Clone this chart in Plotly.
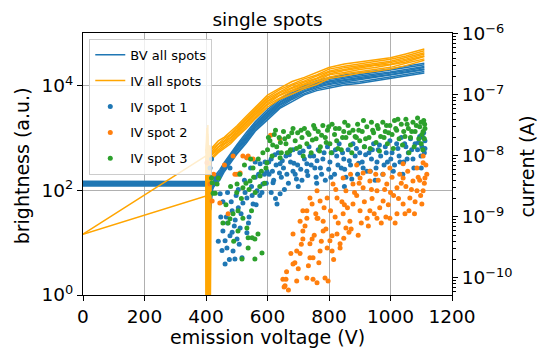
import plotly.graph_objects as go

# ---------------- data ----------------
# BV sweeps: brightness (a.u.) vs emission voltage (V)
bv_voltage = [0, 400, 405, 410, 415, 420, 430, 445, 460, 480, 500, 530, 560, 600, 640, 680, 720, 760, 800, 850, 900, 950, 1000, 1050, 1110]
bv_sweep_1 = [122, 121, 100, 135, 60, 105, 128, 158, 230, 330, 490, 790, 1350, 2230, 3700, 5000, 6700, 8100, 9100, 10400, 11200, 12500, 13500, 15400, 17600]
bv_sweep_2 = [128, 129, 118, 140, 45, 120, 134, 175, 240, 362, 515, 870, 1420, 2450, 3900, 5480, 7100, 8650, 9850, 11200, 12000, 13400, 14500, 16500, 18700]
bv_sweep_3 = [133, 134, 92, 148, 80, 110, 147, 182, 262, 380, 560, 910, 1540, 2570, 4230, 5780, 7700, 9150, 10650, 11800, 13100, 14200, 15700, 17500, 20300]
bv_sweep_4 = [140, 139, 125, 132, 55, 118, 151, 196, 270, 408, 580, 980, 1600, 2760, 4400, 6150, 8000, 9750, 11100, 12600, 13600, 15100, 16400, 18600, 21000]
bv_sweep_5 = [150, 148, 130, 160, 70, 135, 163, 202, 292, 420, 620, 1010, 1700, 2860, 4700, 6400, 8550, 10150, 11800, 13100, 14500, 15700, 17400, 19400, 22500]
bv_sweep_6 = [126, 125, 108, 120, 42, 96, 169, 219, 300, 455, 645, 1090, 1780, 3070, 4900, 6850, 8950, 10850, 12350, 14000, 15100, 16800, 18300, 20700, 23500]
bv_sweep_7 = [137, 136, 115, 150, 65, 125, 184, 228, 328, 475, 700, 1140, 1920, 3220, 5300, 7220, 9600, 11450, 13300, 14700, 16300, 17700, 19700, 21900, 25400]
bv_sweep_8 = [145, 144, 120, 128, 50, 100, 194, 250, 345, 520, 740, 1250, 2050, 3520, 5650, 7850, 10250, 12450, 14200, 16100, 17400, 19300, 21000, 23800, 27000]

# IV sweeps: total current (A) vs emission voltage (V)
iv_voltage_long = [0, 400, 403, 406, 409, 412, 416, 420, 440, 460, 480, 500, 530, 560, 600, 640, 680, 720, 760, 800, 850, 900, 950, 1000, 1050, 1110]
iv_voltage_short = [400, 403, 406, 409, 412, 416, 420, 440, 460, 480, 500, 530, 560, 600, 640, 680, 720, 760, 800, 850, 900, 950, 1000, 1050, 1110]
iv_sweep_1 = [5.2e-10, 1.0e-8, 1e-13, 2.1e-8, 1e-13, 8.5e-9, 1.15e-8, 9.0e-9, 1.13e-8, 1.35e-8, 1.58e-8, 2.03e-8, 2.8e-8, 4.05e-8, 6.3e-8, 8.5e-8, 1.05e-7, 1.27e-7, 1.48e-7, 1.85e-7, 2.04e-7, 2.28e-7, 2.45e-7, 2.67e-7, 3.02e-7, 3.7e-7]
iv_sweep_2 = [5.2e-10, 2.2e-9, 1e-13, 1.6e-8, 6.0e-9, 1e-13, 9.0e-9, 9.6e-9, 1.2e-8, 1.45e-8, 1.7e-8, 2.14e-8, 3.08e-8, 4.28e-8, 6.9e-8, 8.9e-8, 1.15e-7, 1.35e-7, 1.62e-7, 1.95e-7, 2.23e-7, 2.41e-7, 2.68e-7, 2.83e-7, 3.3e-7, 3.9e-7]
iv_sweep_3 = [1.2e-8, 2.9e-8, 1e-13, 1.0e-8, 1.3e-8, 1.4e-8, 1.05e-8, 1.29e-8, 1.55e-8, 1.82e-8, 2.33e-8, 3.24e-8, 4.65e-8, 7.2e-8, 9.8e-8, 1.2e-7, 1.47e-7, 1.69e-7, 2.13e-7, 2.34e-7, 2.62e-7, 2.81e-7, 3.08e-7, 3.47e-7, 4.25e-7]
iv_sweep_4 = [9.0e-9, 1e-13, 2.3e-8, 1e-13, 7.0e-9, 1.0e-8, 1.08e-8, 1.39e-8, 1.6e-8, 1.96e-8, 2.4e-8, 3.47e-8, 4.82e-8, 7.8e-8, 1.01e-7, 1.29e-7, 1.52e-7, 1.82e-7, 2.2e-7, 2.51e-7, 2.72e-7, 3.03e-7, 3.18e-7, 3.72e-7, 4.4e-7]
iv_sweep_5 = [1.1e-8, 1.9e-8, 1.3e-8, 1e-13, 1.2e-8, 1.25e-8, 1.15e-8, 1.42e-8, 1.71e-8, 2.02e-8, 2.58e-8, 3.58e-8, 5.15e-8, 8.0e-8, 1.08e-7, 1.34e-7, 1.63e-7, 1.88e-7, 2.36e-7, 2.6e-7, 2.9e-7, 3.12e-7, 3.4e-7, 3.86e-7, 4.7e-7]
iv_sweep_6 = [1e-13, 1.5e-8, 1e-13, 9.0e-9, 1.1e-8, 1.05e-8, 1.2e-8, 1.54e-8, 1.78e-8, 2.18e-8, 2.69e-8, 3.86e-8, 5.38e-8, 8.6e-8, 1.12e-7, 1.44e-7, 1.7e-7, 2.03e-7, 2.45e-7, 2.8e-7, 3.03e-7, 3.36e-7, 3.55e-7, 4.12e-7, 4.9e-7]
iv_sweep_7 = [1.3e-8, 1e-13, 3.2e-8, 1e-13, 1.5e-8, 1.2e-8, 1.3e-8, 1.6e-8, 1.93e-8, 2.28e-8, 2.9e-8, 4.05e-8, 5.8e-8, 9.1e-8, 1.22e-7, 1.5e-7, 1.83e-7, 2.12e-7, 2.65e-7, 2.94e-7, 3.26e-7, 3.52e-7, 3.83e-7, 4.34e-7, 5.3e-7]
iv_sweep_8 = [1e-13, 2.5e-8, 1e-13, 1.1e-8, 1e-13, 1.3e-8, 1.38e-8, 1.76e-8, 2.04e-8, 2.5e-8, 3.1e-8, 4.42e-8, 6.15e-8, 9.9e-8, 1.29e-7, 1.66e-7, 1.94e-7, 2.33e-7, 2.82e-7, 3.2e-7, 3.48e-7, 3.85e-7, 4.08e-7, 4.7e-7, 5.65e-7]

# single-spot IV data: voltage (V) and log10 of current (A)
spot1_voltage = [413, 418, 423, 430, 446, 455, 462, 468, 462, 478, 488, 494, 517, 501, 533, 511, 520, 533, 553, 566,
                 585, 631, 641, 618, 598, 576, 641, 683, 728, 533, 478, 448, 470, 485, 495, 505, 540, 548, 560, 575,
                 590, 505, 525, 545, 560, 592, 470, 455, 440, 485,
                 452, 466, 476, 482, 492, 498, 508, 514, 527, 538, 550, 563, 571, 582, 596, 612, 626, 655,
                 605, 612, 620, 628, 635, 645, 652, 660, 668, 675, 683, 690, 698, 705, 712, 720, 728, 735, 742, 750,
                 758, 765, 772, 780, 788, 795, 803, 810, 818, 825, 833, 840, 848, 855, 862, 870, 878, 885, 893, 900,
                 908, 915, 923, 930, 938, 945, 953, 960, 968, 975, 983, 990, 998, 1005, 1013, 1020, 1028, 1035, 1043, 1050,
                 1058, 1065, 1073, 1080, 1088, 1095, 1102, 1108, 1112, 1110, 700, 760, 850, 950, 1040, 1100,
                 604, 616, 624, 639, 648, 663, 671, 686, 694, 708, 716, 731, 739, 754, 761, 776, 784, 799, 806, 821,
                 829, 844, 851, 866, 874, 889, 896, 911, 919, 934, 941, 956, 964, 979, 986, 1001, 1009, 1024, 1031, 1046,
                 1054, 1069, 1076, 1091, 1099, 1106, 1112]
spot1_log_current = [-8.2, -8.05, -8.33, -8.44, -8.62, -9.23, -9.39, -9.51, -9.77, -9.31, -9.56, -9.69, -9.67, -9.36, -9.26, -9.18, -8.77, -8.69, -8.79, -8.57,
                     -8.46, -8.79, -8.62, -8.44, -8.25, -8.13, -8.13, -8.25, -8.13, -8.03, -8.2, -9.0, -9.1, -8.9, -9.05, -8.85, -9.0, -8.5, -8.35, -8.65,
                     -8.3, -8.55, -8.4, -8.2, -8.1, -8.1, -8.6, -8.75, -9.4, -9.25,
                     -9.55, -9.0, -9.7, -8.75, -9.15, -8.65, -9.45, -8.95, -8.6, -9.1, -8.65, -8.8, -8.3, -8.6, -8.45, -8.6, -8.7, -8.55,
                     -8.3, -8.05, -8.4, -8.15, -7.95, -8.35, -8.2, -8.0, -8.45, -8.1, -7.9, -8.3, -8.15, -7.95, -8.4, -8.05, -8.25, -7.85, -8.15, -8.0,
                     -8.35, -7.9, -8.2, -8.05, -8.4, -7.85, -8.1, -7.95, -8.3, -8.0, -7.8, -8.2, -8.05, -8.35, -7.9, -8.15, -7.8, -8.0, -8.3, -7.95,
                     -8.1, -7.85, -8.25, -7.95, -8.05, -7.8, -8.2, -7.9, -8.0, -8.3, -7.85, -8.1, -7.75, -7.95, -8.15, -7.8, -8.0, -7.7, -8.1, -7.85,
                     -7.95, -7.72, -8.05, -7.8, -7.9, -7.68, -7.85, -7.62, -7.75, -7.95, -8.5, -8.45, -8.5, -8.4, -8.3, -8.2,
                     -8.1, -8.25, -7.98, -8.28, -8.08, -8.3, -7.98, -8.12, -8.38, -8.22, -7.92, -8.32, -8.0, -8.2, -8.08, -8.3, -7.95, -8.22, -8.35, -7.9,
                     -8.15, -7.95, -8.22, -8.08, -8.38, -7.88, -8.12, -8.2, -7.98, -8.25, -7.9, -8.1, -7.82, -8.15, -7.95, -8.05, -8.25, -7.88, -8.1, -7.8,
                     -8.05, -7.9, -8.2, -7.78, -8.0, -7.7, -7.88]

spot2_voltage = [403, 413, 420, 445, 472, 488, 494, 501, 511, 520, 533, 537, 553, 610, 640, 425, 460,
                 650, 657, 654, 660, 683, 689, 695, 695, 683, 706, 706, 715, 715, 715, 728, 728, 728, 738, 738, 738,
                 745, 745, 748, 748, 761, 761, 761, 764, 771, 771, 781, 781, 787, 794, 794, 797, 803, 810, 810, 813,
                 826, 826, 836, 836, 846, 846, 855, 855, 868, 878, 878, 901, 901, 911, 911, 924, 933, 933, 933, 956,
                 956, 976, 976, 988, 998, 998, 1021, 1021, 1041, 1041, 1041, 1063, 1073, 1086, 1086, 1102, 1106, 1106, 1112, 1118,
                 1106, 820, 850, 865, 890, 905, 940, 965, 985, 1010, 1030, 1050, 1060, 1080, 1095, 1000, 960, 870, 890,
                 662, 668, 676, 700, 710, 722, 733, 752, 757, 767, 775, 784, 790, 805, 815, 822, 830, 842, 848, 860,
                 872, 883, 895, 898, 915, 928, 938, 947, 952, 970, 981, 993, 1005, 1015, 1026, 1035, 1047, 1056, 1068, 1078,
                 1090, 1098, 1110, 1115]
spot2_log_current = [-8.11, -8.46, -8.74, -8.77, -8.95, -8.0, -8.3, -8.3, -8.28, -8.0, -8.03, -8.0, -8.05, -7.66, -7.72, -8.3, -8.15,
                     -10.02, -10.13, -10.15, -10.02, -9.77, -9.75, -10.05, -9.56, -9.28, -9.6, -9.07, -9.36, -9.23, -8.9, -9.02, -8.9, -10.0, -9.44, -9.67, -8.69,
                     -8.79, -9.36, -9.67, -10.02, -9.02, -10.08, -8.57, -9.02, -9.56, -8.74, -9.23, -9.07, -10.0, -9.51, -8.69, -10.05, -9.39, -9.31, -9.56, -8.46,
                     -8.69, -9.28, -9.51, -9.44, -8.95, -8.36, -9.18, -8.57, -9.07, -8.79, -8.46, -8.9, -8.36, -8.52, -8.28, -9.02, -8.9, -8.41, -8.25, -9.02,
                     -8.57, -8.74, -8.3, -8.46, -9.02, -8.2, -8.95, -8.52, -8.79, -8.36, -8.13, -8.69, -8.41, -8.57, -8.2, -8.79, -8.57, -8.11, -8.36, -8.3,
                     -8.0, -9.0, -8.8, -9.25, -8.65, -9.1, -8.7, -8.85, -9.0, -8.65, -8.3, -8.5, -8.9, -8.75, -8.4, -8.6, -8.4, -8.3, -8.15,
                     -9.9, -10.2, -9.6, -9.85, -9.45, -9.15, -9.8, -9.3, -8.95, -9.75, -9.4, -8.85, -9.2, -8.9, -9.7, -8.55, -9.1, -8.75, -9.35, -8.85,
                     -9.2, -8.6, -9.3, -8.45, -8.75, -9.15, -8.55, -8.95, -8.3, -9.1, -8.55, -8.8, -8.35, -9.1, -8.7, -8.45, -8.95, -8.25, -8.55, -8.95,
                     -8.35, -8.65, -8.45, -8.15]

spot3_voltage = [420, 430, 418, 423, 436, 440, 455, 472, 478, 504, 520, 533, 537, 550, 559, 569, 582, 559, 517, 537,
                 504, 488, 501, 520, 543, 576, 598, 553, 585, 641, 673, 510, 525, 540, 555, 570, 580, 590, 560, 530,
                 500, 515, 545, 575, 595, 480, 465, 490, 548,
                 600, 608, 615, 622, 630, 638, 645, 652, 660, 668, 675, 683, 690, 698, 705, 712, 720, 728, 735, 742,
                 750, 758, 765, 772, 780, 788, 795, 803, 810, 818, 825, 833, 840, 848, 855, 862, 870, 878, 885, 893,
                 900, 908, 915, 923, 930, 938, 945, 953, 960, 968, 975, 983, 990, 998, 1005, 1013, 1020, 1028, 1035, 1043,
                 1050, 1058, 1065, 1073, 1080, 1088, 1095, 1102, 1108, 1112, 1110, 1105,
                 603, 617, 626, 642, 656, 664, 679, 694, 709, 716, 731, 746, 754, 769, 776, 791, 799, 807, 821, 829,
                 844, 851, 866, 874, 889, 897, 912, 919, 934, 942, 957, 964, 979, 987, 994, 1009, 1017, 1024, 1039, 1047,
                 1054, 1069, 1077, 1084, 1092, 1099, 1106, 1111, 1100, 1060]
spot3_log_current = [-8.44, -8.61, -8.36, -8.61, -8.46, -8.36, -9.1, -9.1, -9.03, -8.9, -9.02, -9.18, -9.34, -9.34, -9.36, -9.28, -9.59, -9.69, -9.69, -9.51,
                     -9.23, -8.95, -8.46, -8.52, -8.41, -8.33, -8.11, -8.2, -7.95, -8.03, -7.92, -8.3, -8.15, -8.55, -8.35, -8.05, -8.25, -8.45, -8.6, -8.45,
                     -8.6, -8.7, -8.05, -8.5, -8.2, -8.5, -8.8, -9.4, -8.9,
                     -7.9, -7.75, -8.0, -7.65, -7.85, -7.7, -7.95, -7.6, -7.8, -7.68, -7.9, -7.55, -7.75, -7.62, -7.85, -7.7, -7.55, -7.8, -7.65, -7.95,
                     -7.5, -7.72, -7.6, -7.85, -7.5, -7.7, -7.58, -7.8, -7.48, -7.65, -7.75, -7.55, -7.9, -7.6, -7.7, -7.5, -7.82, -7.58, -7.68, -7.48,
                     -7.75, -7.6, -7.85, -7.52, -7.7, -7.45, -7.62, -7.78, -7.55, -7.68, -7.45, -7.6, -7.8, -7.5, -7.65, -7.42, -7.58, -7.72, -7.48, -7.6,
                     -7.4, -7.55, -7.7, -7.45, -7.6, -7.38, -7.52, -7.65, -7.42, -7.55, -7.72, -7.9,
                     -7.7, -7.82, -7.58, -7.78, -7.72, -7.95, -7.62, -7.88, -7.58, -8.0, -7.62, -7.74, -7.55, -7.92, -7.66, -7.78, -7.52, -7.95, -7.55, -7.88,
                     -7.7, -7.45, -7.62, -7.95, -7.7, -7.58, -7.42, -7.72, -7.88, -7.58, -7.5, -7.92, -7.7, -7.5, -7.62, -7.88, -7.55, -7.4, -7.82, -7.68,
                     -7.48, -7.6, -7.85, -7.5, -7.72, -7.45, -7.6, -7.48, -7.8, -7.95]

# ---------------- assemble sweeps (gaps between sweeps) ----------------
def join_sweeps(pairs):
    xs, ys = [], []
    for vx, vy in pairs:
        xs += list(vx) + [None]
        ys += list(vy) + [None]
    return xs, ys

bv_x, bv_y = join_sweeps([(bv_voltage, s) for s in
                          [bv_sweep_1, bv_sweep_2, bv_sweep_3, bv_sweep_4,
                           bv_sweep_5, bv_sweep_6, bv_sweep_7, bv_sweep_8]])
iv_x, iv_y = join_sweeps([(iv_voltage_long, iv_sweep_1), (iv_voltage_long, iv_sweep_2)] +
                         [(iv_voltage_short, s) for s in
                          [iv_sweep_3, iv_sweep_4, iv_sweep_5, iv_sweep_6, iv_sweep_7, iv_sweep_8]])

spot1_current = [10 ** v for v in spot1_log_current]
spot2_current = [10 ** v for v in spot2_log_current]
spot3_current = [10 ** v for v in spot3_log_current]

FONT = "DejaVu Sans"
fig = go.Figure()

fig.add_trace(go.Scatter(x=bv_x, y=bv_y, mode="lines", name="BV all spots",
                         line=dict(color="#1f77b4", width=1.5), connectgaps=False,
                         legendgroup="a", yaxis="y"))
fig.add_trace(go.Scatter(x=iv_x, y=iv_y, mode="lines", name="IV all spots",
                         line=dict(color="#ffa500", width=1.5), connectgaps=False,
                         legendgroup="b", yaxis="y2"))
fig.add_trace(go.Scatter(x=spot1_voltage, y=spot1_current, mode="markers", name="IV spot 1",
                         marker=dict(color="#1f77b4", size=5), legendgroup="c", yaxis="y2"))
fig.add_trace(go.Scatter(x=spot2_voltage, y=spot2_current, mode="markers", name="IV spot 2",
                         marker=dict(color="#ff7f0e", size=5), legendgroup="d", yaxis="y2"))
fig.add_trace(go.Scatter(x=spot3_voltage, y=spot3_current, mode="markers", name="IV spot 3",
                         marker=dict(color="#2ca02c", size=5), legendgroup="e", yaxis="y2"))

left_ticks = [1, 100, 10000]
left_text = ["10<sup>0</sup>", "10<sup>2</sup>", "10<sup>4</sup>"]
right_ticks = [1e-10, 1e-9, 1e-8, 1e-7, 1e-6]
right_text = ["10<sup>\u221210</sup>", "10<sup>\u22129</sup>", "10<sup>\u22128</sup>",
              "10<sup>\u22127</sup>", "10<sup>\u22126</sup>"]
right_minor = [k * 10.0 ** e for e in range(-11, -6) for k in range(2, 10)]

fig.update_layout(
    width=539, height=349,
    margin=dict(l=83, r=87, t=33, b=54, autoexpand=False),
    paper_bgcolor="white", plot_bgcolor="white",
    font=dict(family=FONT, size=18, color="black"),
    title=dict(text="single spots", x=0.5, xref="paper", xanchor="center",
               y=1 - 20 / 349, yanchor="middle", font=dict(size=18.5, family=FONT)),
    xaxis=dict(range=[0, 1200], tickvals=[0, 200, 400, 600, 800, 1000, 1200],
               showgrid=True, gridcolor="#b0b0b0", gridwidth=0.8, automargin=False,
               showline=True, linecolor="black", linewidth=1, mirror=True,
               ticks="outside", ticklen=5, tickcolor="black", zeroline=False,
               tickfont=dict(size=18.5)),
    yaxis=dict(type="log", range=[0, 5.01], tickvals=left_ticks, ticktext=left_text,
               showgrid=True, gridcolor="#b0b0b0", gridwidth=0.8, automargin=False,
               showline=True, linecolor="black", linewidth=1, mirror=True,
               ticks="outside", ticklen=5, tickcolor="black", zeroline=False,
               tickfont=dict(size=18.5)),
    yaxis2=dict(type="log", range=[-10.28, -5.985], overlaying="y", side="right",
                tickvals=right_ticks, ticktext=right_text, showgrid=False, automargin=False,
                showline=True, linecolor="black", linewidth=1,
                ticks="outside", ticklen=5, tickcolor="black", zeroline=False,
                tickfont=dict(size=18.5),
                minor=dict(tickmode="array", tickvals=right_minor, ticks="outside",
                           ticklen=2.5, tickcolor="black", showgrid=False)),
    legend=dict(x=0.017, y=0.978, xanchor="left", yanchor="top",
                bgcolor="rgba(255,255,255,0.8)", bordercolor="#cccccc", borderwidth=1,
                font=dict(size=13, family=FONT), traceorder="grouped",
                tracegroupgap=6, itemwidth=30),
    showlegend=True,
)

fig.add_annotation(text="emission voltage (V)", x=0.5, y=(295 - 337) / 262,
                   xref="paper", yref="paper", showarrow=False,
                   xanchor="center", yanchor="middle", font=dict(size=19, family=FONT))
fig.add_annotation(text="brightness (a.u.)", x=(22 - 83) / 369, y=0.495,
                   xref="paper", yref="paper", showarrow=False, textangle=-90,
                   xanchor="center", yanchor="middle", font=dict(size=19, family=FONT))
fig.add_annotation(text="current (A)", x=(527 - 83) / 369, y=0.49,
                   xref="paper", yref="paper", showarrow=False, textangle=-90,
                   xanchor="center", yanchor="middle", font=dict(size=19, family=FONT))

fig.write_html("out.html", config={"displayModeBar": False},
               post_script="document.body.style.margin='0';document.body.style.overflow='hidden';")
